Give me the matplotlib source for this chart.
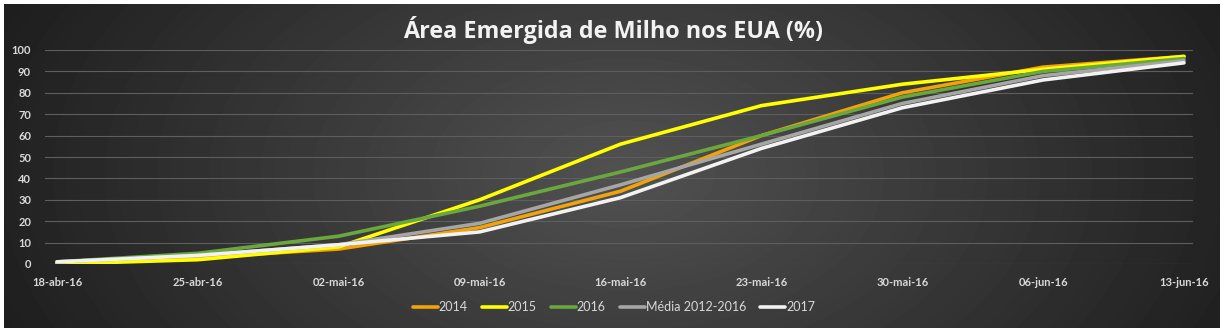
import numpy as np
import matplotlib.pyplot as plt

# weekly dates on the x axis
dates = ['18-abr-16', '25-abr-16', '02-mai-16', '09-mai-16', '16-mai-16',
         '23-mai-16', '30-mai-16', '06-jun-16', '13-jun-16']

s2014 = [0, 3, 7, 17, 34, 60, 80, 92, 97]
s2015 = [0, 2, 8, 30, 56, 74, 84, 91, 97]
s2016 = [1, 5, 13, 27, 43, 60, 78, 90, 96]
media = [1, 4, 9, 19, 37, 56, 75, 88, 95]
s2017 = [1, 4, 9, 15, 31, 54, 73, 86, 94]

series = [('2014', s2014, '#f0a30a'),
          ('2015', s2015, '#ffff00'),
          ('2016', s2016, '#6aa83e'),
          ('Média 2012-2016', media, '#a6a6a6'),
          ('2017', s2017, '#f2f2f2')]

W, H = 1226, 333
fig = plt.figure(figsize=(W / 100, H / 100), dpi=100, facecolor='white')

# dark radial background of the chart area
bg = fig.add_axes([4 / W, 5 / H, 1216 / W, 324 / H])
yy, xx = np.mgrid[0:324, 0:1216]
r = np.sqrt(((xx - 620) / 700.0) ** 2 + ((yy - 170) / 420.0) ** 2)
shade = np.clip(0.32 - 0.21 * r, 0.12, 0.32)
bg.imshow(shade, cmap='gray', vmin=0, vmax=1, aspect='auto')
bg.axis('off')

ax = fig.add_axes([45 / W, 1 - 264 / H, 1148 / W, 214 / H])
ax.patch.set_alpha(0)
x = np.arange(len(dates))
for name, vals, col in series:
    ax.plot(x, vals, color=col, lw=2.6, label=name, solid_capstyle='round')

ax.set_xlim(-0.085, 8.064)
ax.set_ylim(0, 100)
ax.set_yticks(range(0, 101, 10))
ax.set_xticks(x)
ax.set_xticklabels(dates)
ax.grid(axis='y', color='#5e5e5e', lw=0.8)
ax.set_axisbelow(True)
for sp in ax.spines.values():
    sp.set_visible(False)
ax.tick_params(length=0, colors='#d9d9d9', labelsize=8)
ax.tick_params(axis='y', pad=10)
ax.tick_params(axis='x', pad=9)
for lab in ax.get_xticklabels() + ax.get_yticklabels():
    lab.set_family('Lato')
    lab.set_fontweight('bold')

fig.text(0.5, 1 - 30 / H, 'Área Emergida de Milho nos EUA (%)', ha='center',
         va='center', fontsize=16.8, fontweight='bold', color='#f2f2f2',
         family='Open Sans')

leg = fig.legend(loc='center', bbox_to_anchor=(614 / W, 1 - 307 / H), ncol=5,
                 frameon=False, handlelength=2.0, handletextpad=0.05,
                 columnspacing=1.15, prop={'family': 'Lato', 'size': 9})
for t in leg.get_texts():
    t.set_color('#d9d9d9')

fig.savefig('out.png', dpi=100, facecolor='white')
